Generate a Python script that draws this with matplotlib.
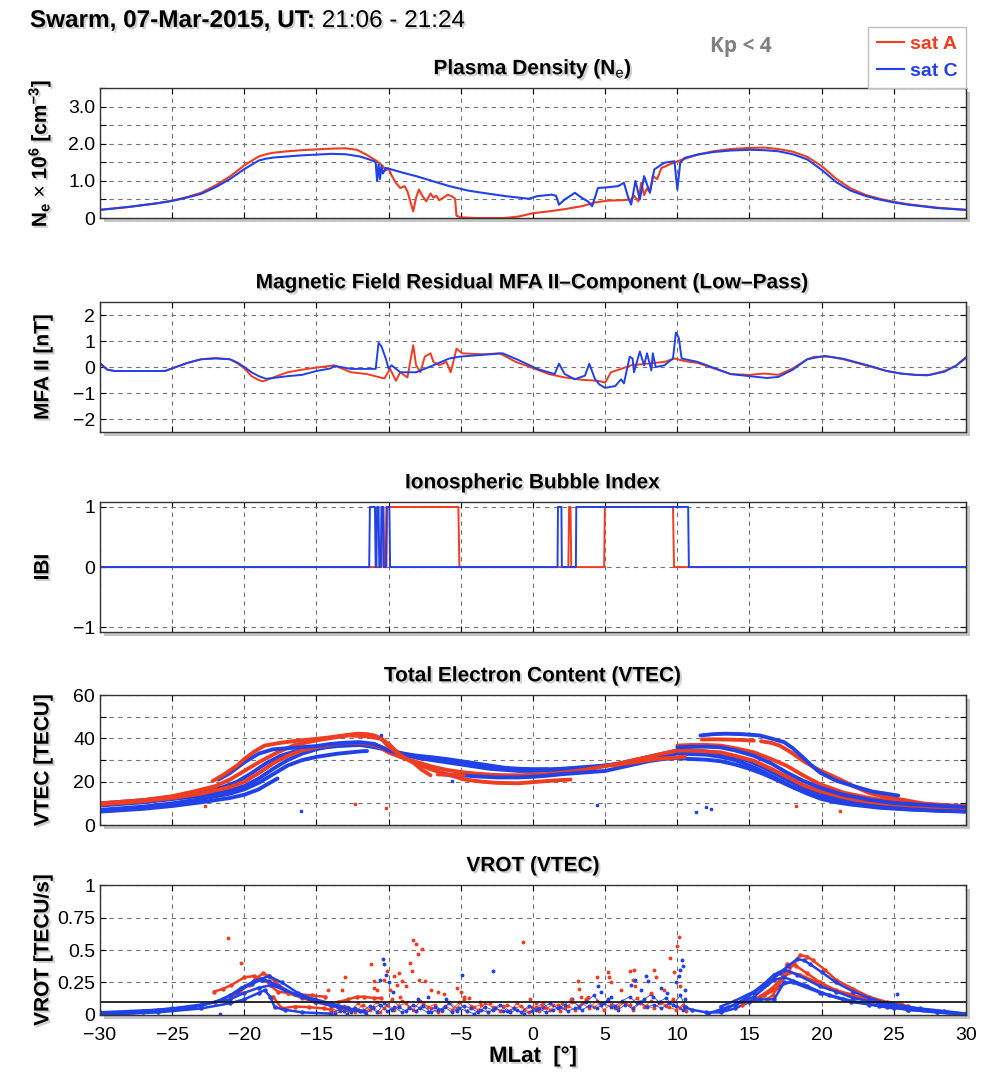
import matplotlib
matplotlib.use('Agg')
import matplotlib.pyplot as plt
import matplotlib.patheffects as pe
from matplotlib.lines import Line2D

plt.rcParams['font.family'] = ['Liberation Sans', 'DejaVu Sans']
plt.rcParams['mathtext.fontset'] = 'custom'
plt.rcParams['mathtext.rm'] = 'Liberation Sans'
plt.rcParams['mathtext.bf'] = 'Liberation Sans:bold'
plt.rcParams['mathtext.it'] = 'Liberation Sans:italic'

RED = '#ef3d22'
BLUE = '#2142e6'

lat_ticks = [-30, -25, -20, -15, -10, -5, 0, 5, 10, 15, 20, 25, 30]

# ---- plasma density (Ne x 1e6 cm^-3) ----
ne_a_lat = [-30, -28, -26, -25, -24, -23, -22, -21, -20, -19, -18.5, -18, -17, -16, -15, -14, -13,
            -12.2, -11.5, -10.8, -10.4, -10.2, -10.0, -9.8, -9.5, -9.2, -8.9, -8.7, -8.5, -8.3, -8.1,
            -7.9, -7.7, -7.4, -7.1, -6.9, -6.7, -6.5, -6.2, -5.9, -5.6, -5.4, -5.3, -5.0, -4.0, -3.0,
            -2.0, -1.0, 0, 1.1, 2.2, 3.4, 4.3, 5.2, 6.1, 6.8, 7.0, 7.3, 7.5, 7.7, 7.9, 8.1, 8.3, 8.6,
            8.9, 9.5, 10, 11.4, 12.5, 13.7, 15, 16, 17, 18, 19, 20, 21, 22, 23, 24, 25, 26, 28, 30]
ne_a = [0.22, 0.30, 0.40, 0.47, 0.56, 0.68, 0.88, 1.12, 1.42, 1.66, 1.72, 1.76, 1.80, 1.83, 1.85, 1.87,
        1.88, 1.84, 1.70, 1.53, 1.40, 1.28, 1.34, 1.15, 0.95, 0.81, 0.86, 0.72, 0.45, 0.18, 0.55, 0.77,
        0.62, 0.45, 0.66, 0.55, 0.60, 0.48, 0.55, 0.63, 0.58, 0.52, 0.06, 0.02, 0.0, 0.0, 0.0, 0.04,
        0.13, 0.18, 0.24, 0.32, 0.42, 0.47, 0.48, 0.50, 0.60, 0.45, 0.95, 0.62, 0.80, 0.70, 1.13, 1.05,
        1.35, 1.45, 1.53, 1.71, 1.80, 1.86, 1.89, 1.90, 1.86, 1.79, 1.65, 1.40, 1.06, 0.80, 0.63, 0.52,
        0.44, 0.37, 0.28, 0.22]
ne_c_lat = [-30, -28, -26, -25, -24, -23, -22, -21, -20, -19, -18.5, -18, -17, -16, -15, -14, -13, -12,
            -11.5, -11.0, -10.9, -10.8, -10.7, -10.6, -10.5, -10.4, -10.2, -9.9, -9, -8.1, -7, -5.8,
            -4.5, -3.5, -1.9, -0.3, 0.3, 1.3, 1.6, 1.8, 2.2, 2.9, 3.4, 3.8, 4.1, 4.5, 5.2, 5.9, 6.3,
            6.6, 6.8, 7.1, 7.4, 7.7, 8.1, 8.4, 9.1, 9.8, 10.0, 10.2, 10.5, 11.4, 12.5, 13.7, 15, 16, 17,
            18, 19, 20, 21, 22, 23, 24, 25, 26, 28, 30]
ne_c = [0.22, 0.30, 0.40, 0.46, 0.55, 0.65, 0.83, 1.05, 1.32, 1.55, 1.60, 1.63, 1.66, 1.69, 1.71, 1.73,
        1.72, 1.66, 1.60, 1.53, 1.50, 1.00, 1.45, 1.05, 1.40, 1.20, 1.35, 1.32, 1.22, 1.13, 1.00, 0.86,
        0.74, 0.68, 0.59, 0.52, 0.59, 0.63, 0.60, 0.36, 0.50, 0.68, 0.54, 0.45, 0.32, 0.81, 0.83, 0.86,
        0.95, 0.55, 0.36, 1.00, 0.50, 1.13, 0.68, 1.31, 1.49, 1.53, 0.77, 1.49, 1.62, 1.71, 1.78, 1.82,
        1.84, 1.83, 1.80, 1.72, 1.58, 1.30, 0.97, 0.74, 0.60, 0.50, 0.42, 0.36, 0.27, 0.22]

# ---- magnetic field residual, MFA parallel component (nT) ----
mfa_a_lat = [-30, -29.5, -29, -27, -25.5, -25, -24, -23, -22, -21, -20.5, -20, -19.5, -19, -18.7, -18,
             -17, -16, -15, -14, -13.8, -12.6, -11.5, -10.3, -9.9, -9.5, -9.2, -8.7, -8.3, -8.1, -7.8,
             -7.5, -7.1, -6.9, -6.5, -6.0, -5.7, -5.3, -4.9, -3.5, -2.3, -1.2, 0, 1.1, 2.2, 3.4, 4.5,
             5.0, 5.4, 6.1, 6.8, 7.9, 9.1, 9.8, 10.5, 11.4, 13.7, 15, 16, 17, 18, 19, 19.5, 20.5, 21.5,
             22.5, 23.5, 24.5, 25.5, 26.5, 27.5, 28.5, 29.3, 30]
mfa_a = [0.15, -0.1, -0.15, -0.15, -0.15, -0.05, 0.15, 0.3, 0.35, 0.3, 0.15, -0.05, -0.35, -0.5, -0.55,
         -0.4, -0.2, -0.1, -0.02, 0.05, 0.07, -0.2, -0.27, -0.44, -0.07, -0.53, -0.2, -0.4, 0.84, 0.07,
         -0.2, 0.4, 0.53, 0.2, 0.07, 0.2, -0.2, 0.71, 0.53, 0.49, 0.53, 0.2, -0.04, -0.27, -0.4, -0.49,
         -0.53, -0.6, -0.2, -0.07, 0.07, 0.13, 0.2, 0.33, 0.23, 0.16, -0.27, -0.3, -0.25, -0.3, -0.05,
         0.3, 0.4, 0.4, 0.3, 0.15, 0.0, -0.15, -0.25, -0.3, -0.3, -0.15, 0.05, 0.35]
mfa_c_lat = [-30, -29.5, -29, -27, -25.5, -25, -24, -23, -22, -21, -20.5, -20, -19.5, -19, -18.5, -18,
             -17, -16, -15, -14, -13.8, -12.6, -11.5, -10.9, -10.7, -10.5, -10.2, -10, -9.8, -9.2, -8.1,
             -6.9, -5.8, -5.1, -3.5, -2.1, -1.0, 0.3, 1.5, 1.8, 2.2, 2.9, 3.6, 3.9, 4.3, 4.6, 5.0, 5.7,
             6.1, 6.3, 6.7, 6.9, 7.0, 7.4, 7.7, 7.9, 8.2, 8.3, 8.5, 9.1, 9.7, 9.9, 10.1, 10.3, 11.4, 13.7,
             15, 16.2, 17, 18, 19, 20.2, 21.5, 22.5, 23.5, 24.5, 25.5, 26.5, 27.3, 28.5, 29.3, 30]
mfa_c = [0.15, -0.1, -0.15, -0.15, -0.15, -0.05, 0.15, 0.3, 0.33, 0.3, 0.18, 0.0, -0.2, -0.35, -0.45,
         -0.42, -0.35, -0.3, -0.15, -0.05, 0.05, -0.07, -0.07, -0.07, 0.93, 0.8, 0.33, -0.07, 0.07, -0.2,
         -0.2, 0.07, 0.33, 0.4, 0.47, 0.53, 0.27, -0.07, -0.27, 0.13, -0.27, -0.47, -0.33, 0.13, -0.47,
         -0.67, -0.8, -0.73, -0.47, -0.63, 0.4, 0.33, -0.2, 0.6, 0.07, 0.53, -0.13, 0.53, 0.0, 0.07,
         0.33, 1.33, 1.13, 0.33, 0.2, -0.27, -0.35, -0.42, -0.38, -0.1, 0.3, 0.43, 0.32, 0.17, 0.02,
         -0.15, -0.25, -0.3, -0.32, -0.18, 0.05, 0.38]

# ---- ionospheric bubble index ----
ibi_a_lat = [-30, -10.5, -10.45, -10.35, -10.3, -10.15, -10.1, -5.17, -5.1, 2.45, 2.5, 2.6, 2.65,
             4.93, 4.98, 9.7, 9.77, 30]
ibi_a = [0, 0, 1, 1, 0, 0, 1, 1, 0, 0, 1, 1, 0, 0, 1, 1, 0, 0]
ibi_c_lat = [-30, -11.35, -11.3, -10.95, -10.9, -10.85, -10.8, -10.7, -10.65, -10.55, -10.5, -10.4,
             -10.35, -10.2, -10.15, -9.95, -9.9, 1.7, 1.73, 1.97, 2.0, 2.97, 3.0, 10.75, 10.8, 30]
ibi_c = [0, 0, 1, 1, 0, 0, 1, 1, 0, 0, 1, 1, 0, 0, 1, 1, 0, 0, 1, 1, 0, 0, 1, 1, 0, 0]

# ---- VTEC arcs (TECU), sat C ----
tec_c1_lat = [-30, -27, -25, -23, -21, -20, -19, -18.5, -17.7]
tec_c1 = [6.2, 7.5, 8.8, 10.5, 12.5, 14, 16.5, 18.5, 21.5]
tec_c2_lat = [-30, -27, -25, -23, -21, -20, -19, -18, -17, -16, -15, -13.5, -12, -11.5]
tec_c2 = [7, 8.5, 10, 12, 14.5, 16.5, 19.5, 23.5, 27.5, 30, 31.5, 33, 34, 34.2]
tec_c3_lat = [-30, -27, -25, -23, -21, -20, -19, -18, -17, -16, -15, -14, -13, -12, -11, -10.5, -10,
              -9, -8, -7, -6, -5, -4, -3, -2, -1, 0, 1, 2, 3, 4, 5, 6, 7, 8, 9, 10, 11, 12, 13, 14,
              15, 16, 17, 18, 19, 20, 22, 24, 26, 28, 30]
tec_c3 = [9, 10.5, 12, 13.5, 16, 18, 21.5, 26, 30, 33, 35, 36.5, 37.5, 37.8, 37, 36, 34, 32.5, 31, 30,
          29, 28, 27, 26, 25.5, 25, 25, 25.2, 25.5, 26, 26.5, 27.5, 28.5, 30, 31.5, 33, 34.5, 34.5, 34,
          33, 31.5, 29.5, 26.5, 23, 19.5, 16.5, 14, 10.8, 9, 8, 7.3, 7]
tec_c4_lat = [-30, -27, -25, -23, -21.5, -20.5, -19.5, -18.5, -17.5, -16.5, -15, -13.5, -12, -11, -10,
              -9, -8, -6, -4, -2, 0, 2, 4, 6, 8, 9, 10, 11, 12, 13, 14, 15, 16, 17, 18, 19, 20, 21, 22,
              24, 26, 28, 30]
tec_c4 = [10, 11.5, 13, 15, 17.5, 20, 24, 28.5, 32, 34, 35.5, 36.5, 37, 36, 34.5, 33, 31.5, 29.5, 27.5,
          26, 25.5, 26, 27, 28, 30.5, 32, 33, 32.8, 32.5, 31.5, 30, 27.5, 24.5, 21, 17.5, 14.5, 12, 10.5,
          9.5, 8, 7.2, 6.7, 6.3]
tec_c5_lat = [-21.8, -21, -20, -19, -18, -17, -16, -15, -14, -13, -12, -11, -10.5, -10, -9, -8, -7, -6,
              -5, -4, -3, -2, -1, 0, 1]
tec_c5 = [21, 24, 29, 33, 35, 35.5, 36, 36.5, 37.5, 38, 38.3, 37.5, 36, 34.4, 33, 32, 31.3, 30.5, 29.5,
          28.5, 27.5, 26.5, 26, 25.8, 25.8]
tec_c6_lat = [-6.2, -5, -4, -2.5, -1, 0, 1, 2, 3, 4, 5, 6, 7, 8, 9, 10, 11, 12, 13, 14, 15, 16, 17, 18,
              19, 20, 22, 24, 26, 28, 30]
tec_c6 = [23.4, 23, 22.5, 22, 22, 22.3, 22.8, 23.5, 24, 24.5, 25, 26.5, 28, 29.5, 30.5, 31, 30.5, 30.2,
          29.5, 28, 26, 23.5, 20.5, 17.5, 15, 13, 10, 8.3, 7.3, 6.6, 6.2]
tec_c7_lat = [11.6, 12.5, 13.4, 14.5, 15.7, 16.5, 17.4, 18, 18.7, 19.3, 19.9, 21, 22.2, 23.5, 25.3]
tec_c7 = [41.4, 42, 42.2, 42, 41.4, 40, 38.3, 35.5, 31.3, 27.5, 24.2, 20.5, 18, 15.5, 13.6]
tec_c8_lat = [10, 11, 12, 13, 14, 15.3, 16.5, 17.6, 18.7, 19.9, 21.5, 23.3, 25, 26.8, 28.5, 30]
tec_c8 = [35.9, 36.2, 36.2, 35.9, 34.5, 32, 28.5, 24.2, 20.5, 17.2, 14, 11.7, 10.2, 9.4, 8.8, 8.3]

# ---- VTEC arcs (TECU), sat A ----
tec_a1_lat = [-22.2, -21.5, -20.5, -20, -19.3, -18.6, -17.5, -16.3, -15, -14, -13, -12.2, -11.5, -11,
              -10.5, -10.1, -9.5, -9, -8.3, -7.7, -7.1]
tec_a1 = [20.3, 23, 27.5, 30.5, 34, 36.7, 38, 39, 39.8, 40.6, 41.5, 42.2, 42, 41.4, 40, 36.7, 34, 31.5,
          28.9, 25.5, 23]
tec_a2_lat = [-30, -27, -25, -23.5, -22, -21, -20, -19, -17.7, -16.5, -15.1, -14, -12.8, -11.5, -10.5,
              -10, -9.4, -8.5, -7.1, -6, -4.8, -3.5, -2.5, -1, 0.9, 2, 2.6]
tec_a2 = [10, 11.5, 13.3, 15.5, 18, 21, 25, 29, 33.6, 37, 39, 40.2, 41.4, 41, 39.8, 37.5, 33.6, 29.5,
          25.8, 23.5, 21.1, 20, 19.5, 19.3, 20.3, 20.8, 21]
tec_a3_lat = [-30, -27, -25, -23, -21, -20, -19, -18, -17, -16, -15, -14, -13, -12, -11, -10.5, -10,
              -9, -8, -7, -6, -5, -4, -3, -2, -1, 0, 1, 2, 3, 4, 5, 6, 7, 8, 9, 10, 11, 12, 13, 14,
              15.3, 16.5, 17.6, 18.7, 19.9, 21.5, 23.3, 25, 27, 30]
tec_a3 = [9.5, 11, 12.5, 14.5, 17.5, 20, 24, 28.5, 32, 34.5, 36, 37.2, 38, 38, 37, 35.5, 33.5, 31, 29,
          27, 25.5, 24.5, 23.8, 23.3, 23, 23, 23.2, 23.6, 24.2, 25, 26, 27.2, 28.5, 30, 31.5, 33, 34.4,
          34.4, 34, 33.6, 32, 29.7, 26, 22.3, 18.5, 15.6, 12.8, 10.5, 9.3, 8.4, 7.8]
tec_a4_lat = [11.7, 12.5, 13.5, 14.5, 15.3]
tec_a4 = [39.5, 39.6, 39.5, 39.3, 39]
tec_a5_lat = [15.8, 16.5, 17.1, 17.9, 18.7, 19.8, 21, 22.2, 23.3, 24.5, 25.6, 27, 28.5, 30]
tec_a5 = [38.7, 38, 36.7, 33.5, 29.7, 25.5, 21.9, 18, 14.8, 12.8, 11.7, 10, 9.2, 8.6]
tec_a6_lat = [10, 11, 12, 13, 14, 15.3, 16.5, 17.6, 18.7, 19.9, 21.5, 23.3, 25, 27, 30]
tec_a6 = [36.7, 37, 37, 36.7, 35.5, 33.6, 30.5, 27.3, 23, 18.8, 15, 12.5, 10.8, 9.5, 8.6]
tec_a7_lat = [5.5, 6.5, 7.5, 8.5, 9.5, 10.5]
tec_a7 = [27.5, 28.5, 29.5, 30.5, 31, 31.5]
tec_a8_lat = [-6.6, -5.5, -4.8]
tec_a8 = [23.4, 23.2, 23]

tec_dot_a_lat = [-22.7, -12.3, -10.2, 18.2, 21.3]
tec_dot_a = [8.6, 9.8, 7.8, 8.9, 6.7]
tec_dot_c_lat = [-16.1, -10.5, -5.6, 4.4, 11.3, 12.0, 12.3]
tec_dot_c = [6.7, 41.7, 20.3, 9.4, 5.8, 8.3, 7.5]

# ---- VROT arcs (TECU/s) ----
vr_a1_lat = [-22.1, -21.5, -20.9, -20, -19.3, -18.6, -18.2, -17.7, -17, -16.3, -15.3, -14.4]
vr_a1 = [0.18, 0.2, 0.23, 0.29, 0.3, 0.27, 0.23, 0.18, 0.17, 0.16, 0.15, 0.14]
vr_a2_lat = [-20.9, -20.3, -19.7, -19.2, -18.7, -18.3, -17.9, -17.4, -17, -16, -15.1, -14, -12.8]
vr_a2 = [0.14, 0.18, 0.23, 0.28, 0.32, 0.3, 0.26, 0.21, 0.17, 0.13, 0.1, 0.07, 0.04]
vr_a3_lat = [-18, -17.4, -16.5, -15.5, -14.5, -14]
vr_a3 = [0.14, 0.05, 0.065, 0.06, 0.05, 0.04]
vr_a4_lat = [-13.5, -12.8, -12.2, -11.7, -11, -10.5]
vr_a4 = [0.1, 0.12, 0.14, 0.14, 0.13, 0.13]
vr_a5_lat = [15.3, 16, 16.7, 17.2, 17.6, 18.1, 18.5, 19, 19.4, 20.2, 21, 22.2, 23.3, 24.5, 25.6]
vr_a5 = [0.12, 0.15, 0.19, 0.26, 0.32, 0.4, 0.46, 0.45, 0.42, 0.35, 0.27, 0.2, 0.14, 0.1, 0.08]
vr_a6_lat = [16.2, 16.6, 16.9, 17.3, 17.6, 18.2, 19, 19.9, 21, 22, 23, 24.5, 25.6]
vr_a6 = [0.12, 0.15, 0.21, 0.3, 0.39, 0.38, 0.32, 0.25, 0.19, 0.16, 0.13, 0.09, 0.07]
vr_a7_lat = [14.5, 15.5, 16.5, 17.2, 17.8, 18.5, 19.5, 20.5, 22, 23.5, 25, 26]
vr_a7 = [0.08, 0.13, 0.2, 0.28, 0.33, 0.31, 0.26, 0.21, 0.15, 0.11, 0.08, 0.07]

vr_c1_lat = [-30, -27, -25, -23.5, -22, -21, -20.2, -19.3, -18.3, -17.4, -16.3, -15, -14, -12.8, -11.7]
vr_c1 = [0.0, 0.02, 0.04, 0.06, 0.1, 0.15, 0.21, 0.26, 0.3, 0.25, 0.17, 0.11, 0.08, 0.05, 0.03]
vr_c2_lat = [-30, -27, -25, -23, -21, -20, -19, -18.1, -17.2, -16, -15.1, -14, -12.8]
vr_c2 = [0.01, 0.03, 0.05, 0.08, 0.12, 0.17, 0.21, 0.23, 0.19, 0.14, 0.12, 0.09, 0.05]
vr_c3_lat = [-30, -26, -23, -21, -20, -19, -18.6, -18.2, -17.9, -17.2, -16, -14]
vr_c3 = [0.0, 0.02, 0.05, 0.09, 0.12, 0.17, 0.19, 0.14, 0.06, 0.04, 0.02, 0.01]
vr_c4_lat = [-30, -26, -23, -21.5, -20.5, -19.5, -18.8, -18.3, -17.6, -16.5, -15, -13.5, -12]
vr_c4 = [0.02, 0.04, 0.07, 0.12, 0.18, 0.24, 0.27, 0.26, 0.22, 0.16, 0.1, 0.06, 0.03]
vr_c5_lat = [13, 14, 15.3, 16.2, 17.1, 17.7, 18.3, 18.8, 19.2, 20, 21, 22.2, 23.3, 24.5, 26.8, 28.5, 30]
vr_c5 = [0.03, 0.08, 0.17, 0.24, 0.32, 0.38, 0.43, 0.42, 0.39, 0.33, 0.25, 0.18, 0.13, 0.09, 0.05,
         0.03, 0.01]
vr_c6_lat = [13, 14, 15.3, 16, 16.7, 17.4, 18.3, 19.9, 21, 22.2, 24, 25.6, 28, 30]
vr_c6 = [0.065, 0.11, 0.18, 0.24, 0.31, 0.35, 0.31, 0.22, 0.18, 0.13, 0.09, 0.065, 0.03, 0.01]
vr_c7_lat = [12.1, 13.5, 15.3, 16.7, 17.4, 18.8, 20.5, 22, 24.5, 26, 28, 30]
vr_c7 = [0.01, 0.06, 0.14, 0.27, 0.29, 0.23, 0.15, 0.1, 0.065, 0.04, 0.02, 0.0]
vr_c8_lat = [14.1, 15.7, 16.7, 17.4, 18, 19.9, 21.5, 23.3, 25]
vr_c8 = [0.09, 0.12, 0.12, 0.25, 0.25, 0.17, 0.12, 0.08, 0.05]
vr_c9_lat = [10.5, 11, 12, 13, 14, 15, 16, 17, 18, 19, 20, 22, 24, 26, 28, 30]
vr_c9 = [0.06, 0.04, 0.02, 0.02, 0.05, 0.1, 0.15, 0.22, 0.26, 0.22, 0.17, 0.11, 0.07, 0.04, 0.02, 0.005]

# scattered VROT samples in the bubble region
vrot_dot_a_lat = [-21.1, -20.2, -14.2, -13.2, -13.0, -11.2, -11.0, -11.0, -10.8, -10.3, -10.1, -9.9,
                  -9.6, -9.4, -9.3, -9.2, -9.1, -8.8, -8.5, -8.4, -8.3, -8.1, -8.0, -7.9, -7.7, -7.5,
                  -7.1, -6.6, -6.2, -5.3, -5.0, -4.8, -4.4, -3.7, -3.0, -0.7, -0.2, 0.2, 0.6, 2.0, 2.6,
                  3.1, 3.2, 3.3, 3.8, 4.4, 5.2, 5.3, 5.4, 6.1, 6.7, 6.9, 7.0, 7.1, 8.2, 8.4, 8.5, 9.1,
                  9.5, 9.8, 10.0, 10.1, 10.2]
vrot_dot_a = [0.59, 0.40, 0.19, 0.19, 0.29, 0.39, 0.26, 0.21, 0.19, 0.27, 0.34, 0.19, 0.30, 0.23, 0.32,
              0.14, 0.26, 0.22, 0.40, 0.34, 0.58, 0.55, 0.47, 0.27, 0.51, 0.26, 0.19, 0.18, 0.16, 0.21,
              0.18, 0.14, 0.13, 0.10, 0.09, 0.56, 0.12, 0.09, 0.08, 0.09, 0.12, 0.26, 0.20, 0.14, 0.14,
              0.29, 0.33, 0.29, 0.25, 0.19, 0.34, 0.27, 0.35, 0.22, 0.17, 0.35, 0.29, 0.19, 0.44, 0.33,
              0.53, 0.60, 0.22]
vrot_dot_c_lat = [-21.7, -10.6, -10.4, -10.3, -10.2, -10.0, -9.7, -8.0, -7.3, -6.0, -4.9, -2.8, 4.5, 4.7,
                  5.4, 6.8, 7.1, 7.5, 7.8, 8.0, 8.3, 8.9, 9.3, 9.9, 10.1, 10.2, 10.3, 10.4, 10.5, 10.5,
                  25.2]
vrot_dot_c = [0.01, 0.27, 0.43, 0.39, 0.31, 0.25, 0.18, 0.12, 0.14, 0.12, 0.31, 0.34, 0.22, 0.18, 0.14,
              0.23, 0.27, 0.19, 0.30, 0.26, 0.14, 0.21, 0.17, 0.25, 0.30, 0.35, 0.42, 0.38, 0.19, 0.12,
              0.16]

# dense low-level VROT samples between -14 and 10.5
low_lat1 = [-14.0, -13.4, -12.9, -12.3, -11.8, -11.3, -10.8, -10.3, -9.8, -9.3, -8.8, -8.3, -7.8, -7.3,
            -6.8, -6.3, -5.8, -5.3, -4.8, -4.3, -3.8, -3.3, -2.8, -2.3, -1.8, -1.3, -0.8, -0.3, 0.2,
            0.7, 1.2, 1.7, 2.2, 2.7, 3.2, 3.7, 4.2, 4.7, 5.2, 5.7, 6.2, 6.7, 7.2, 7.7, 8.2, 8.7, 9.2,
            9.7, 10.2, 10.6]
low_lat2 = [-13.7, -13.1, -12.6, -12.1, -11.6, -11.1, -10.6, -10.1, -9.6, -9.1, -8.6, -8.1, -7.6, -7.1,
            -6.6, -6.1, -5.6, -5.1, -4.6, -4.1, -3.6, -3.1, -2.6, -2.1, -1.6, -1.1, -0.6, -0.1, 0.4,
            0.9, 1.4, 1.9, 2.4, 2.9, 3.4, 3.9, 4.4, 4.9, 5.4, 5.9, 6.4, 6.9, 7.4, 7.9, 8.4, 8.9, 9.4,
            9.9, 10.4]
vrot_low_a1 = [0.05, 0.03, 0.06, 0.02, 0.08, 0.04, 0.10, 0.05, 0.12, 0.07, 0.09, 0.04, 0.11, 0.06, 0.08,
               0.03, 0.10, 0.05, 0.12, 0.07, 0.04, 0.09, 0.06, 0.03, 0.08, 0.05, 0.07, 0.02, 0.06, 0.09,
               0.04, 0.08, 0.05, 0.10, 0.07, 0.12, 0.06, 0.09, 0.11, 0.05, 0.10, 0.08, 0.13, 0.06, 0.11,
               0.09, 0.07, 0.12, 0.05, 0.03]
vrot_low_a2 = [0.02, 0.07, 0.04, 0.09, 0.03, 0.06, 0.02, 0.08, 0.04, 0.11, 0.06, 0.03, 0.09, 0.05, 0.02,
               0.07, 0.04, 0.10, 0.03, 0.06, 0.08, 0.02, 0.05, 0.07, 0.03, 0.09, 0.04, 0.06, 0.03, 0.05,
               0.08, 0.03, 0.07, 0.04, 0.09, 0.05, 0.11, 0.04, 0.08, 0.06, 0.10, 0.04, 0.09, 0.07, 0.05,
               0.10, 0.06, 0.04, 0.08]
vrot_low_c1 = [0.02, 0.04, 0.01, 0.05, 0.03, 0.07, 0.02, 0.09, 0.04, 0.06, 0.03, 0.08, 0.05, 0.02, 0.06,
               0.04, 0.09, 0.03, 0.07, 0.05, 0.02, 0.06, 0.04, 0.08, 0.03, 0.05, 0.02, 0.07, 0.04, 0.06,
               0.09, 0.05, 0.08, 0.12, 0.06, 0.10, 0.15, 0.08, 0.12, 0.07, 0.11, 0.14, 0.09, 0.12, 0.16,
               0.10, 0.13, 0.08, 0.15, 0.06]
vrot_low_c2 = [0.01, 0.03, 0.02, 0.04, 0.01, 0.05, 0.08, 0.03, 0.06, 0.02, 0.05, 0.03, 0.07, 0.02, 0.04,
               0.06, 0.02, 0.05, 0.03, 0.01, 0.04, 0.02, 0.05, 0.03, 0.02, 0.04, 0.01, 0.03, 0.05, 0.02,
               0.04, 0.06, 0.03, 0.05, 0.04, 0.07, 0.05, 0.09, 0.06, 0.04, 0.08, 0.05, 0.10, 0.06, 0.08,
               0.05, 0.09, 0.07, 0.04]
vrot_threshold = 0.1


shadow_box = [pe.SimplePatchShadow(offset=(3, -3), shadow_rgbFace='0.35', alpha=0.35), pe.Normal()]
shadow_txt = [pe.SimplePatchShadow(offset=(1.5, -1.5), shadow_rgbFace='0.4', alpha=0.3), pe.Normal()]


def style_axes(ax, ylim, yticks, ylabels, ylabel, bottom=False):
    ax.set_xlim(-30, 30)
    ax.set_xticks(lat_ticks)
    ax.set_ylim(*ylim)
    ax.set_yticks(yticks)
    ax.set_yticklabels(ylabels)
    ax.grid(True, linestyle=(0, (4, 4)), color='0.45', linewidth=0.8)
    ax.set_axisbelow(True)
    ax.tick_params(direction='in', top=True, right=True, length=4, width=0.8, labelsize=14)
    ax.tick_params(axis='x', pad=9)
    if not bottom:
        ax.tick_params(labelbottom=False)
    for sp in ax.spines.values():
        sp.set_linewidth(1.0)
        sp.set_color('0.2')
    ax.patch.set_path_effects(shadow_box)
    ax.set_ylabel(ylabel, fontweight='bold', fontsize=15, path_effects=shadow_txt)
    ax.yaxis.set_label_coords(-0.055, 0.5)


fig = plt.figure(figsize=(9.97, 10.73), dpi=100)
L, W, H = 0.1003, 0.8686, 0.1210
ax1 = fig.add_axes([L, 0.7968, W, H])
ax2 = fig.add_axes([L, 0.5974, W, H])
ax3 = fig.add_axes([L, 0.4110, W, H])
ax4 = fig.add_axes([L, 0.2311, W, H])
ax5 = fig.add_axes([L, 0.0541, W, H])

TITLE_KW = dict(fontsize=15, fontweight='bold', pad=10, path_effects=shadow_txt)

# plasma density
ax1.plot(ne_a_lat, ne_a, color=RED, lw=1.5)
ax1.plot(ne_c_lat, ne_c, color=BLUE, lw=1.5)
style_axes(ax1, (0, 3.5), [0, 0.5, 1, 1.5, 2, 2.5, 3, 3.5],
           ['0', '', '1.0', '', '2.0', '', '3.0', ''],
           r'N$_\mathbf{e}$ $\times$ 10$^\mathbf{6}$ [cm$^\mathbf{-3}$]')
ax1.set_title(r'Plasma Density (N$_\mathrm{e}$)', **TITLE_KW)

# magnetic field residual
ax2.plot(mfa_a_lat, mfa_a, color=RED, lw=1.4)
ax2.plot(mfa_c_lat, mfa_c, color=BLUE, lw=1.4)
style_axes(ax2, (-2.5, 2.5), [-2, -1, 0, 1, 2], ['\u22122', '\u22121', '0', '1', '2'], 'MFA II [nT]')
ax2.set_title('Magnetic Field Residual MFA II\u2013Component (Low\u2013Pass)', **TITLE_KW)

# bubble index
ax3.plot(ibi_a_lat, ibi_a, color=RED, lw=1.4)
ax3.plot(ibi_c_lat, ibi_c, color=BLUE, lw=1.4)
style_axes(ax3, (-1.08, 1.08), [-1, 0, 1], ['\u22121', '0', '1'], 'IBI')
ax3.set_title('Ionospheric Bubble Index', **TITLE_KW)

# VTEC
kw = dict(lw=2.8, solid_capstyle='round')
for la, v in [(tec_c1_lat, tec_c1), (tec_c2_lat, tec_c2), (tec_c3_lat, tec_c3), (tec_c4_lat, tec_c4)]:
    ax4.plot(la, v, color=BLUE, **kw)
for la, v in [(tec_a2_lat, tec_a2), (tec_a3_lat, tec_a3)]:
    ax4.plot(la, v, color=RED, **kw)
for la, v in [(tec_c5_lat, tec_c5), (tec_c6_lat, tec_c6)]:
    ax4.plot(la, v, color=BLUE, **kw)
for la, v in [(tec_a1_lat, tec_a1), (tec_a4_lat, tec_a4), (tec_a5_lat, tec_a5),
              (tec_a6_lat, tec_a6), (tec_a7_lat, tec_a7), (tec_a8_lat, tec_a8)]:
    ax4.plot(la, v, color=RED, **kw)
for la, v in [(tec_c7_lat, tec_c7), (tec_c8_lat, tec_c8)]:
    ax4.plot(la, v, color=BLUE, **kw)
ax4.plot(tec_dot_a_lat, tec_dot_a, 's', color=RED, ms=2, ls='none')
ax4.plot(tec_dot_c_lat, tec_dot_c, 's', color=BLUE, ms=2, ls='none')
style_axes(ax4, (0, 60), [0, 10, 20, 30, 40, 50, 60], ['0', '', '20', '', '40', '', '60'],
           'VTEC [TECU]')
ax4.set_title('Total Electron Content (VTEC)', **TITLE_KW)

# VROT
vk = dict(lw=1.8, marker='o', ms=2.2)
for la, v in [(low_lat1, vrot_low_a1), (low_lat2, vrot_low_a2)]:
    ax5.plot(la, v, color=RED, lw=0.6, marker='o', ms=1.8)
for la, v in [(low_lat2, vrot_low_c2), (low_lat1, vrot_low_c1)]:
    ax5.plot(la, v, color=BLUE, lw=0.6, marker='o', ms=1.8)
ax5.plot(vrot_dot_a_lat, vrot_dot_a, 'o', color=RED, ms=1.8, ls='none')
ax5.plot(vrot_dot_c_lat, vrot_dot_c, 'o', color=BLUE, ms=1.8, ls='none')
for la, v in [(vr_a1_lat, vr_a1), (vr_a2_lat, vr_a2), (vr_a3_lat, vr_a3), (vr_a4_lat, vr_a4)]:
    ax5.plot(la, v, color=RED, **vk)
for la, v in [(vr_c1_lat, vr_c1), (vr_c2_lat, vr_c2), (vr_c3_lat, vr_c3), (vr_c4_lat, vr_c4),
              (vr_c9_lat, vr_c9)]:
    ax5.plot(la, v, color=BLUE, **vk)
for la, v in [(vr_a5_lat, vr_a5), (vr_a6_lat, vr_a6), (vr_a7_lat, vr_a7)]:
    ax5.plot(la, v, color=RED, **vk)
for la, v in [(vr_c5_lat, vr_c5), (vr_c6_lat, vr_c6), (vr_c7_lat, vr_c7), (vr_c8_lat, vr_c8)]:
    ax5.plot(la, v, color=BLUE, **vk)
ax5.axhline(vrot_threshold, color='0.1', lw=1.3)
style_axes(ax5, (0, 1), [0, 0.25, 0.5, 0.75, 1], ['0', '0.25', '0.5', '0.75', '1'],
           'VROT [TECU/s]', bottom=True)
ax5.set_xticklabels(['\u2212%d' % -t if t < 0 else '%d' % t for t in lat_ticks])
ax5.set_title('VROT (VTEC)', **TITLE_KW)
ax5.set_xlabel('MLat  [\u00b0]', fontsize=16, fontweight='bold', labelpad=1,
               path_effects=shadow_txt)

# header texts
t1 = fig.text(0.03, 0.9748, 'Swarm, 07-Mar-2015, UT:', fontsize=17.5, fontweight='bold',
              va='baseline', path_effects=shadow_txt)
renderer = fig.canvas.get_renderer()
bb = t1.get_window_extent(renderer=renderer)
fig.text(bb.x1 / fig.bbox.width + 0.007, 0.9748, '21:06 - 21:24', fontsize=17.5, va='baseline',
         path_effects=shadow_txt)
fig.text(0.743, 0.957, 'Kp < 4', color='0.5', fontsize=15, fontweight='bold',
         family=['Open Sans', 'DejaVu Sans'], ha='center', va='center')

handles = [Line2D([], [], color=RED, lw=1.5), Line2D([], [], color=BLUE, lw=1.5)]
leg = fig.legend(handles, ['sat A', 'sat C'], loc='upper right', bbox_to_anchor=(0.969, 0.975),
                 borderaxespad=0, fancybox=False, edgecolor='0.75', framealpha=1, handlelength=1.4,
                 handletextpad=0.3, borderpad=0.45, labelspacing=0.45,
                 prop={'weight': 'bold', 'size': 14})
for txt, c in zip(leg.get_texts(), [RED, BLUE]):
    txt.set_color(c)

fig.savefig('out.png', dpi=100)
